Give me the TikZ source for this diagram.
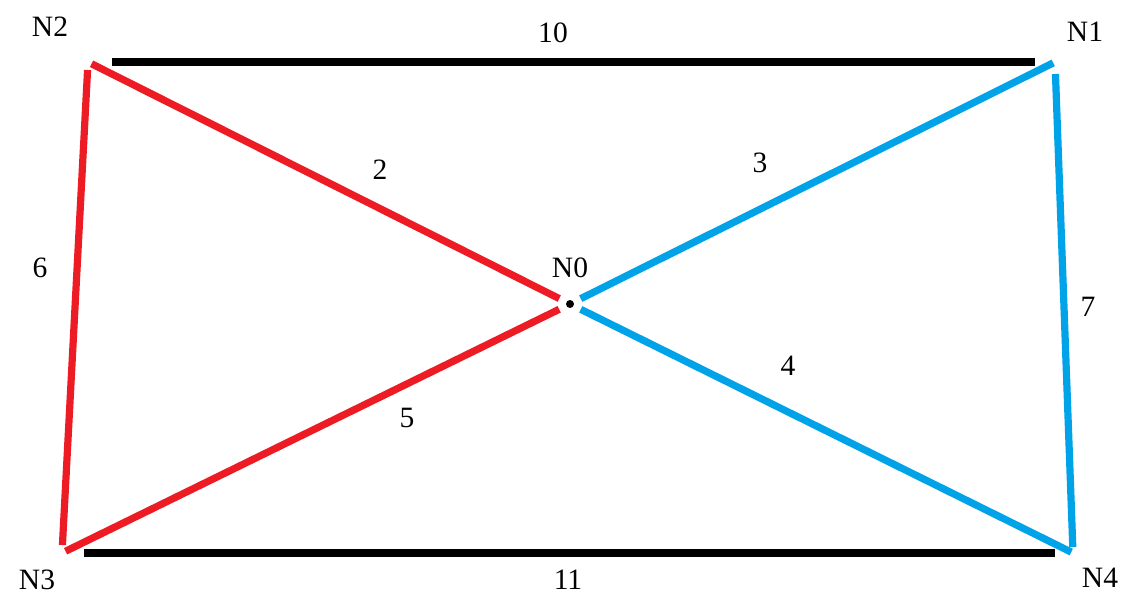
\documentclass[tikz,border=0pt]{standalone}
\usepackage{fontspec}
\setmainfont{Liberation Serif}
\usetikzlibrary{positioning}
\definecolor{eRed}{RGB}{237,28,36}
\definecolor{eBlue}{RGB}{0,162,232}

\begin{document}
\begin{tikzpicture}[
			x=0.025cm,y=-0.025cm,
			lbl/.style={font=\fontsize{21}{24}\selectfont,inner sep=0pt},
			eblack/.style={draw=black,line width=0.19cm},
			ered/.style={draw=eRed,line width=0.18cm},
			eblue/.style={draw=eBlue,line width=0.18cm}
			]
			\useasboundingbox (0,0) rectangle (1128,596);
			% routers
			\coordinate (n0) at (570,304);
			\coordinate (n1) at (1055,62);
			\coordinate (n2) at (88,62);
			\coordinate (n3) at (62,553);
			\coordinate (n4) at (1073,553);
			\fill[black] (n0) circle (0.1cm);
			\node[lbl](t0) at (570,268){N0};
			\node[lbl](t1) at (1085,32){N1};
			\node[lbl](t2) at (50,27){N2};
			\node[lbl](t3) at (37,580){N3};
			\node[lbl](t4) at (1100,578){N4};
			% links
			\draw[eblack,shorten <=0.6cm,shorten >=0.5cm](n2)--(n1);
			\draw[eblack,shorten <=0.55cm,shorten >=0.45cm](n3)--(n4);
			\draw[ered,shorten <=0.1cm,shorten >=0.3cm](n2)--(n0);
			\draw[ered,shorten <=0.2cm,shorten >=0.2cm](n2)--(n3);
			\draw[ered,shorten <=0.1cm,shorten >=0.3cm](n3)--(n0);
			\draw[eblue,shorten <=0.05cm,shorten >=0.3cm](n1)--(n0);
			\draw[eblue,shorten <=0.3cm,shorten >=0.15cm](n1)--(n4);
			\draw[eblue,shorten <=0.3cm,shorten >=0.05cm](n0)--(n4);
			% costs
			\node[lbl](c10) at (553,33){10};
			\node[lbl](c11) at (568,580){11};
			\node[lbl](c2) at (380,170){2};
			\node[lbl](c3) at (760,163){3};
			\node[lbl](c4) at (788,366){4};
			\node[lbl](c5) at (407,418){5};
			\node[lbl](c6) at (40,268){6};
			\node[lbl](c7) at (1088,307){7};
		\end{tikzpicture}
\end{document}
